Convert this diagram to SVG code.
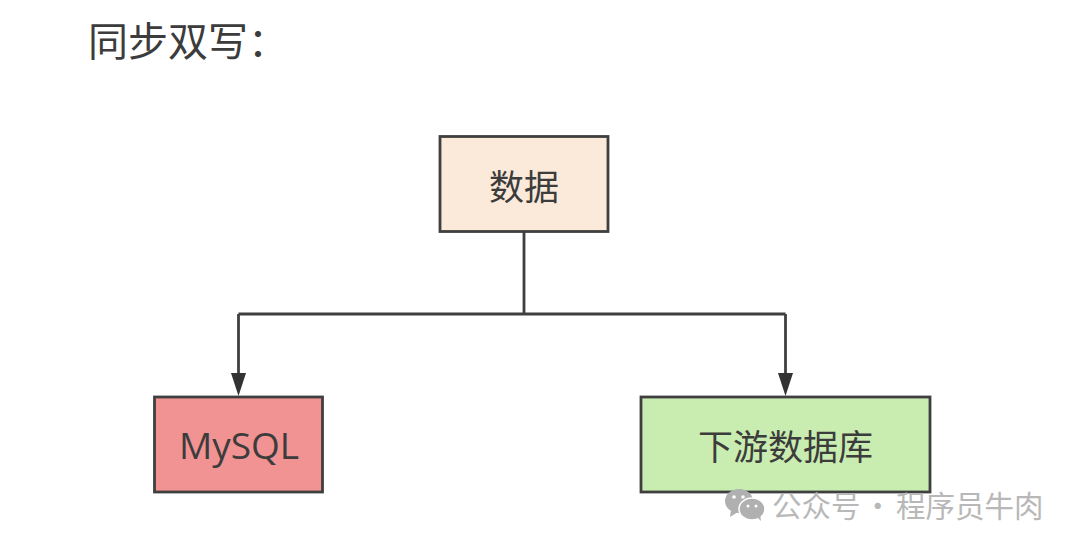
<svg xmlns="http://www.w3.org/2000/svg" width="1080" height="549" viewBox="0 0 1080 549">
<style>
text{font-family:"Noto Sans CJK SC","Noto Sans",sans-serif;fill:#3c3c3c}
.n{stroke:#3f3f3f;stroke-width:2.8}
.l{font-size:35px;text-anchor:middle}
.c{fill:none;stroke:#3f3f3f;stroke-width:2.8}
.h{fill:#333}
.wm{font-size:29.500px;fill:#b8b8b8}
</style>
<rect width="1080" height="549" fill="#fff"/>
<g id="title"><text x="88" y="56" font-size="40" fill="#444">同步双写：</text></g>
<g id="connectors">
<path class="c" d="M524 231V314"/>
<path class="c" d="M238.500 314H785.500"/>
<path class="c" d="M238.500 314V375"/><path class="h" d="M231 373H246L238.500 396Z"/>
<path class="c" d="M785.500 314V375"/><path class="h" d="M778 373H793L785.500 396Z"/>
</g>
<g id="node-data"><rect class="n" x="440" y="136.500" width="168" height="95" fill="#fbe9da"/><text class="l" x="524" y="200">数据</text></g>
<g id="node-mysql"><rect class="n" x="154.500" y="397" width="168" height="95" fill="#f19393"/><text x="239" y="459" text-anchor="middle" font-size="37" style="font-family:'Open Sans',sans-serif">MySQL</text></g>
<g id="node-downstream"><rect class="n" x="641" y="397" width="289" height="95" fill="#c9ecb0"/><text class="l" x="785.500" y="460">下游数据库</text></g>
<g id="watermark">
<g fill="#b0b0b0"><ellipse cx="739" cy="501" rx="14" ry="12"/><path d="M731 510l-1 7 8-5z"/><ellipse cx="752" cy="509" rx="13" ry="11" stroke="#fff" stroke-width="1.500"/><path d="M757 517l4 4-1-7z"/></g>
<g fill="#fff"><circle cx="734" cy="497" r="1.800"/><circle cx="743" cy="497" r="1.800"/><circle cx="748" cy="506" r="1.500"/><circle cx="756" cy="506" r="1.500"/></g>
<text class="wm" x="772" y="517">公众号</text><text class="wm" x="863" y="517">·</text><text class="wm" x="896" y="517" font-size="30">程序员牛肉</text>
</g>
</svg>
